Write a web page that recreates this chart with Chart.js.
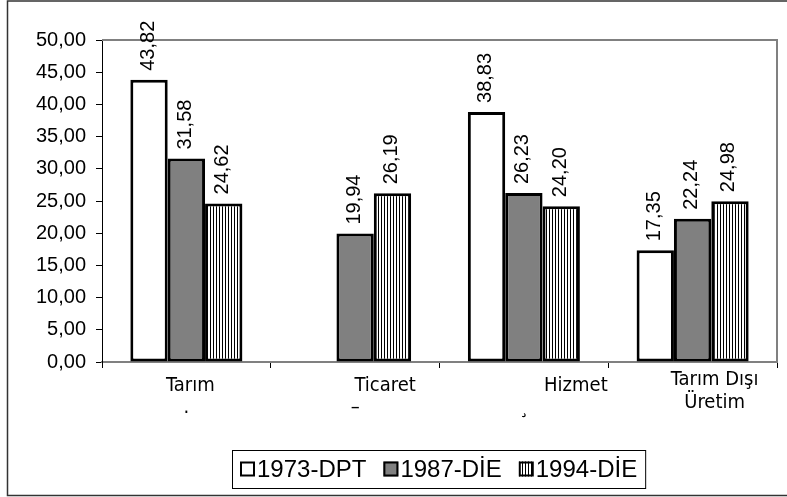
<!DOCTYPE html>
<html>
<head>
<meta charset="utf-8">
<script src="https://cdn.jsdelivr.net/npm/chart.js@4/dist/chart.umd.min.js"></script>
<style>
html, body { margin: 0; padding: 0; background: #fff; }
#wrap { width: 787px; height: 497px; }
</style>
</head>
<body>
<div id="wrap"><canvas id="chart" width="787" height="497"></canvas></div>
<script>
// ── 数据 ──────────────────────
const categories = [['Tarım'], ['Ticaret'], ['Hizmet'], ['Tarım Dışı', 'Üretim']];
const seriesNames = ['1973-DPT', '1987-DİE', '1994-DİE'];
const dpt1973 = [43.82, null, 38.83, 17.35];
const die1987 = [31.58, 19.94, 26.23, 22.24];
const die1994 = [24.62, 26.19, 24.20, 24.98];
const yTicks = [0, 5, 10, 15, 20, 25, 30, 35, 40, 45, 50];
// stray glyphs under the category labels in the original
const strayMarks = ['.', '–', '¸', ''];

const ARIAL = '"Liberation Sans", Arial, sans-serif';
const TAHOMA = '"DejaVu Sans Condensed", "DejaVu Sans", Verdana, sans-serif';
const fmt = v => v.toFixed(2).replace('.', ',');

const canvas = document.getElementById('chart');
const ctx = canvas.getContext('2d');

// vertical-line hatch for 1994
function makeHatch() {
    const p = document.createElement('canvas');
    p.width = 3; p.height = 4;
    const g = p.getContext('2d');
    g.fillStyle = '#fff'; g.fillRect(0, 0, 3, 4);
    g.fillStyle = '#000'; g.fillRect(0, 0, 1, 4);
    return ctx.createPattern(p, 'repeat');
}
const hatch = makeHatch();
const fills = ['#ffffff', '#808080', hatch];

// label offsets from category centre (the original labels sit off-centre)
const labelShift = [4, 30, 52, 22];

const decorPlugin = {
    id: 'decor',
    afterDatasetsDraw(chart) {
        const c = chart.ctx;
        const area = chart.chartArea;
        const xs = chart.scales.x;

        // plot border top + right (grey)
        c.save();
        c.strokeStyle = '#808080';
        c.lineWidth = 2;
        c.beginPath();
        c.moveTo(area.left, area.top);
        c.lineTo(area.right, area.top);
        c.lineTo(area.right, area.bottom);
        c.stroke();
        c.restore();

        // rotated value labels
        c.save();
        c.fillStyle = '#000';
        c.font = '20px ' + ARIAL;
        c.textAlign = 'left';
        c.textBaseline = 'middle';
        chart.data.datasets.forEach((ds, di) => {
            chart.getDatasetMeta(di).data.forEach((el, i) => {
                const v = ds.data[i];
                if (v == null) return;
                c.save();
                c.translate(el.x - 1, el.y - 9);
                c.rotate(-Math.PI / 2);
                c.fillText(fmt(v), 0, 0);
                c.restore();
            });
        });
        c.restore();

        // category labels
        c.save();
        c.fillStyle = '#000';
        c.font = '20px ' + TAHOMA;
        c.textAlign = 'center';
        c.textBaseline = 'middle';
        categories.forEach((lines, i) => {
            const cx = xs.getPixelForValue(i);
            const x = cx + labelShift[i];
            if (lines.length === 1) {
                c.fillText(lines[0], x, 386);
            } else {
                lines.forEach((t, k) => c.fillText(t, x, 380 + k * 23));
            }
            if (strayMarks[i]) c.fillText(strayMarks[i], cx, 408);
        });
        c.restore();

        // legend
        c.save();
        c.font = '24px ' + ARIAL;
        c.textBaseline = 'middle';
        const boxX = 232, boxY = 450, boxH = 38, sq = 15;
        let widths = seriesNames.map(n => sq + 2 + c.measureText(n).width);
        const gap = 17;
        const boxW = 8 + widths.reduce((a, b) => a + b, 0) + gap * (seriesNames.length - 1) + 8;
        c.fillStyle = '#fff';
        c.fillRect(boxX, boxY, boxW, boxH);
        c.strokeStyle = '#000';
        c.lineWidth = 1;
        c.strokeRect(boxX + 0.5, boxY + 0.5, boxW, boxH);
        let x = boxX + 8;
        const cy = boxY + boxH / 2;
        seriesNames.forEach((n, i) => {
            c.fillStyle = fills[i];
            c.fillRect(x, cy - sq / 2, sq, sq);
            c.strokeStyle = '#000';
            c.lineWidth = 2;
            c.strokeRect(x + 1, cy - sq / 2 + 1, sq - 2, sq - 2);
            c.fillStyle = '#000';
            c.fillText(n, x + sq + 2, cy + 1);
            x += widths[i] + gap;
        });
        c.restore();

        // outer frame (top, left, bottom)
        c.save();
        c.strokeStyle = '#333';
        c.lineWidth = 1.5;
        c.beginPath();
        c.moveTo(787, 1);
        c.lineTo(7.5, 1);
        c.lineTo(7.5, 495.5);
        c.lineTo(787, 495.5);
        c.stroke();
        c.restore();
    }
};

new Chart(ctx, {
    type: 'bar',
    data: {
        labels: categories,
        datasets: [dpt1973, die1987, die1994].map((d, i) => ({
            label: seriesNames[i],
            data: d,
            backgroundColor: fills[i],
            borderColor: '#000',
            borderWidth: 3,
            borderSkipped: false,
            categoryPercentage: 0.664,
            barPercentage: 1,
        }))
    },
    options: {
        responsive: false,
        animation: false,
        devicePixelRatio: 1,
        layout: { padding: { top: 40, right: 10, left: 0, bottom: 0 } },
        plugins: { legend: { display: false }, tooltip: { enabled: false } },
        scales: {
            x: {
                offset: true,
                grid: { offset: true, drawOnChartArea: false, drawTicks: true, tickLength: 6, color: '#000', lineWidth: 1 },
                border: { display: true, color: '#808080', width: 2 },
                ticks: { display: false },
                afterFit: s => { s.height = 135; },
            },
            y: {
                min: 0,
                max: 50,
                afterBuildTicks: s => { s.ticks = yTicks.map(v => ({ value: v })); },
                ticks: {
                    callback: v => fmt(v),
                    font: { family: ARIAL, size: 20 },
                    color: '#000',
                    padding: 10,
                },
                grid: { drawOnChartArea: false, tickLength: 6, color: '#000' },
                border: { display: true, color: '#000', width: 1 },
                afterFit: s => { s.width = 102; },
            }
        }
    },
    plugins: [decorPlugin]
});
</script>
</body>
</html>
